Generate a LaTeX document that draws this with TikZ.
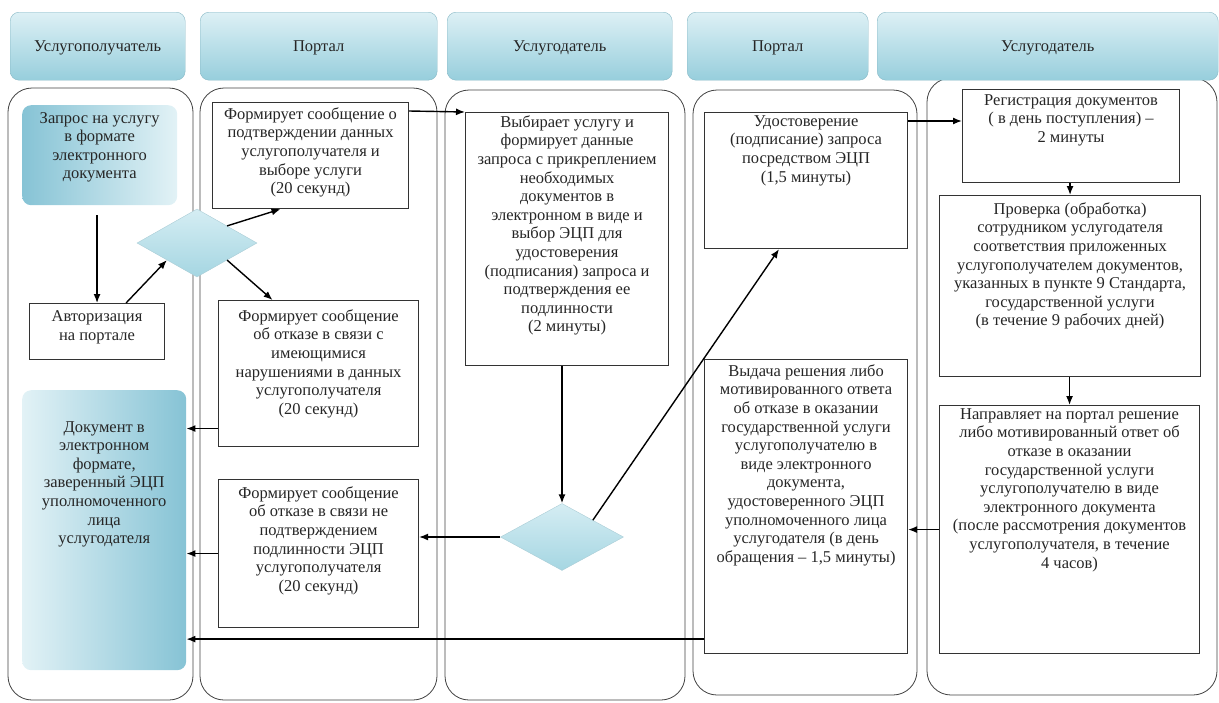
\documentclass[tikz,border=0pt]{standalone}
\usepackage{fontspec}
\setmainfont{Liberation Serif}
\usetikzlibrary{shapes.geometric,arrows.meta}

\definecolor{hdrlight}{HTML}{DDF0F5}
\definecolor{hdrdark}{HTML}{97CEDC}
\definecolor{docdark}{HTML}{86C3D5}
\definecolor{doclight}{HTML}{E2F2F6}
\definecolor{dialight}{HTML}{D5EDF3}
\definecolor{diadark}{HTML}{A5D6E2}

% text block of a box: width, height, top gap, text
\newcommand{\boxtext}[4]{\parbox[c][#2pt][t]{#1pt}{\centering\vspace*{#3pt}#4\par}}

\tikzset{
  lane/.style={draw=black!75, line width=0.8pt, rounded corners=24pt},
  header/.style={anchor=north west, rounded corners=9pt, minimum height=68pt, text depth=0pt,
    top color=hdrlight, bottom color=hdrdark, draw=hdrdark!90!black},
  stepbox/.style={anchor=north west, draw=black!80, line width=1.1pt, inner sep=0pt, fill=white},
  docbox/.style={anchor=north west, inner sep=0pt, rounded corners=9pt},
  decision/.style={diamond, inner sep=0pt, top color=dialight, bottom color=diadark, draw=diadark!90!black!80},
  arr/.style={-{Latex[length=9pt,width=7pt]}, line width=1.4pt}
}

\begin{document}
\begin{tikzpicture}[x=1pt, y=-1pt, font=\fontsize{16.5}{18.6}\selectfont, text=black!85]
\useasboundingbox (0,0) rectangle (1219,702);

% lanes
\draw[lane] (8,88) rectangle (193,700);
\draw[lane] (200,88) rectangle (437,700);
\draw[lane] (445,90) rectangle (685,700);
\draw[lane] (693,90) rectangle (917,695);
\draw[lane] (927,78) rectangle (1217,695);

% headers
\node[header, minimum width=175pt] (hd1) at (10,12) {Услугополучатель};
\node[header, minimum width=237pt] (hd2) at (200,12) {Портал};
\node[header, minimum width=225pt] (hd3) at (447,12) {Услугодатель};
\node[header, minimum width=181pt] (hd4) at (687,12) {Портал};
\node[header, minimum width=341pt] (hd5) at (877,12) {Услугодатель};

% service receiver
\node[docbox, left color=docdark, right color=doclight] (req) at (22,105)
  {\boxtext{155}{100}{7}{Запрос на услугу\\ в формате\\ электронного\\ документа}};
\node[stepbox] (auth) at (29,303)
  {\boxtext{135}{56}{7}{Авторизация\\ на портале}};
\node[docbox, left color=doclight, right color=docdark] (doc) at (22,390)
  {\boxtext{164}{280}{31}{Документ в\\ электронном\\ формате,\\ заверенный ЭЦП\\ уполномоченного\\ лица\\ услугодателя}};
\node[decision, minimum width=120pt, minimum height=68pt] (dia1) at (197,243) {};

% portal
\node[stepbox] (conf) at (212,102)
  {\boxtext{196}{106}{5}{Формирует сообщение о\\ подтверждении данных\\ услугополучателя и\\ выборе услуги\\ (20 секунд)}};
\node[stepbox] (rej1) at (218,300)
  {\boxtext{200}{146}{9}{Формирует сообщение\\ об отказе в связи с\\ имеющимися\\ нарушениями в данных\\ услугополучателя\\ (20 секунд)}};
\node[stepbox] (rej2) at (218,479)
  {\boxtext{200}{148}{7}{Формирует сообщение\\ об отказе в связи не\\ подтверждением\\ подлинности ЭЦП\\ услугополучателя\\ (20 секунд)}};

% service provider
\node[stepbox] (choose) at (465,112)
  {\boxtext{203}{253}{3}{Выбирает услугу и\\ формирует данные\\ запроса с прикреплением\\ необходимых\\ документов в\\ электронном в виде и\\ выбор ЭЦП для\\ удостоверения\\ (подписания) запроса и\\ подтверждения ее\\ подлинности\\ (2 минуты)}};
\node[decision, minimum width=123pt, minimum height=67pt] (dia2) at (562,537) {};

% portal
\node[stepbox] (cert) at (704,112)
  {\boxtext{203}{136}{3}{Удостоверение\\ (подписание) запроса\\ посредством ЭЦП\\ (1,5 минуты)}};
\node[stepbox] (issue) at (704,359)
  {\boxtext{203}{294}{5}{Выдача решения либо\\ мотивированного ответа\\ об отказе в оказании\\ государственной услуги\\ услугополучателю в\\ виде электронного\\ документа,\\ удостоверенного ЭЦП\\ уполномоченного лица\\ услугодателя (в день\\ обращения – 1,5 минуты)}};

% service provider
\node[stepbox] (reg) at (962,89)
  {\boxtext{217}{93}{5}{Регистрация документов\\ ( в день поступления) –\\ 2 минуты}};
\node[stepbox] (check) at (939,195)
  {\boxtext{261}{181}{7}{Проверка (обработка)\\ сотрудником услугодателя\\ соответствия приложенных\\ услугополучателем документов,\\ указанных в пункте 9 Стандарта,\\ государственной услуги\\ (в течение 9 рабочих дней)}};
\node[stepbox] (send) at (939,405)
  {\boxtext{260}{248}{3}{Направляет на портал решение\\ либо мотивированный ответ об\\ отказе в оказании\\ государственной услуги\\ услугополучателю в виде\\ электронного документа\\ (после рассмотрения документов\\ услугополучателя, в течение\\ 4 часов)}};

% arrows
\coordinate (confout) at ([yshift=-9pt]conf.north east);
\coordinate (rej1out) at ([yshift=-55pt]rej1.west);
\coordinate (certout) at ([yshift=-9pt]cert.north east);
\coordinate (issueout) at ([yshift=15pt]issue.south west);

\draw[arr, shorten <=10pt] (req.south -| auth.north) -- (auth.north);
\draw[arr] ([xshift=29pt]auth.north) -- (dia1.south west);
\draw[arr] (dia1.north east) -- ([xshift=-30pt]conf.south);
\draw[arr] (dia1.south east) -- ([xshift=-46pt]rej1.north);
\draw[arr] (confout) -- (choose.north west);
\draw[arr] (rej1out) -- (rej1out -| doc.east);
\draw[arr] (rej2.west) -- (rej2.west -| doc.east);
\draw[arr] (choose.south -| dia2.north) -- (dia2.north);
\draw[arr] (dia2.west) -- (dia2.west -| rej2.east);
\draw[arr] (dia2.north east) -- ([xshift=-27pt]cert.south);
\draw[arr] (certout) -- (certout -| reg.west);
\draw[arr] (reg.south -| check.north) -- (check.north);
\draw[arr] (check.south -| send.north) -- (send.north);
\draw[arr] (send.west) -- (send.west -| issue.east);
\draw[arr] (issueout) -- (issueout -| doc.east);
\end{tikzpicture}
\end{document}
